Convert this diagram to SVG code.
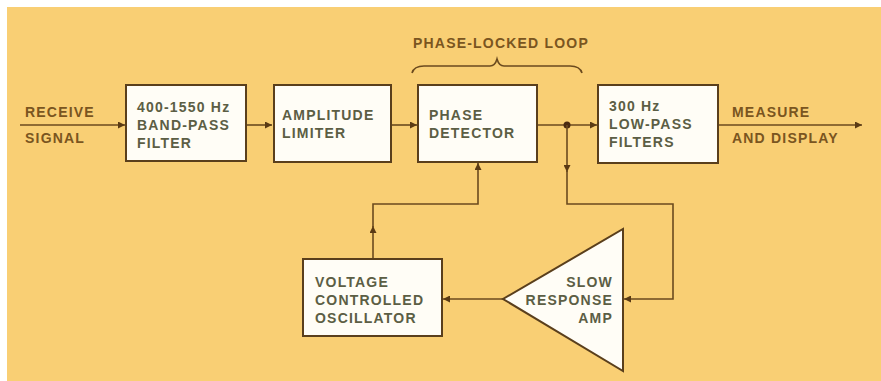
<svg xmlns="http://www.w3.org/2000/svg" width="881" height="381" viewBox="0 0 881 381">
<style>
.box{fill:#fffdf6;stroke:#5a3f1c;stroke-width:2}
.t{font-family:"Liberation Sans",Arial,sans-serif;font-weight:bold;font-size:14px;letter-spacing:1.2px;fill:#5c5e44}
.l{font-family:"Liberation Sans",Arial,sans-serif;font-weight:bold;font-size:14px;letter-spacing:1.2px;fill:#7a5520}
.w{fill:none;stroke:#6b4a1e;stroke-width:1.6}
</style>
<defs>
<marker id="ah" viewBox="0 0 10 10" refX="10" refY="5" markerWidth="9" markerHeight="7" markerUnits="userSpaceOnUse" orient="auto">
<path d="M0,0 L10,5 L0,10 z" fill="#5a3a14"/>
</marker>
</defs>
<rect x="0" y="0" width="881" height="381" fill="#ffffff"/>
<rect x="7" y="7" width="874" height="374" fill="#f9cf74"/>

<g id="connectors">
<line class="w" x1="20" y1="125" x2="125" y2="125" marker-end="url(#ah)"/>
<line class="w" x1="246" y1="125" x2="272" y2="125" marker-end="url(#ah)"/>
<line class="w" x1="391" y1="125" x2="417" y2="125" marker-end="url(#ah)"/>
<line class="w" x1="537" y1="125" x2="597" y2="125" marker-end="url(#ah)"/>
<circle cx="567" cy="125" r="3.5" fill="#4a2a10"/>
<line class="w" x1="718" y1="125" x2="862" y2="125" marker-end="url(#ah)"/>
<line class="w" x1="567" y1="125" x2="567" y2="172" marker-end="url(#ah)"/>
<polyline class="w" points="567,170 567,204 673,204 673,299 624,299" marker-end="url(#ah)"/>
<line class="w" x1="503" y1="299" x2="443" y2="299" marker-end="url(#ah)"/>
<line class="w" x1="373" y1="259" x2="373" y2="226" marker-end="url(#ah)"/>
<polyline class="w" points="373,228 373,204 478,204 478,163" marker-end="url(#ah)"/>
</g>

<g id="brace">
<path class="w" d="M412,73 Q414,66 424,66 L490,66 Q495,66 497,59 Q499,66 504,66 L570,66 Q580,66 582,73"/>
<text class="l" x="413" y="48">PHASE-LOCKED LOOP</text>
</g>

<g id="receive">
<text class="l" x="25" y="117">RECEIVE</text>
<text class="l" x="25" y="143">SIGNAL</text>
</g>

<g id="bandpass">
<rect class="box" x="126" y="85" width="120" height="76"/>
<text class="t" x="137" y="112">400-1550 Hz</text>
<text class="t" x="137" y="130">BAND-PASS</text>
<text class="t" x="137" y="148">FILTER</text>
</g>

<g id="limiter">
<rect class="box" x="274" y="85" width="117" height="77"/>
<text class="t" x="282" y="120">AMPLITUDE</text>
<text class="t" x="282" y="138">LIMITER</text>
</g>

<g id="phasedetector">
<rect class="box" x="418" y="85" width="119" height="77"/>
<text class="t" x="429" y="120">PHASE</text>
<text class="t" x="429" y="138">DETECTOR</text>
</g>

<g id="lowpass">
<rect class="box" x="598" y="85" width="120" height="78"/>
<text class="t" x="609" y="111">300 Hz</text>
<text class="t" x="609" y="129">LOW-PASS</text>
<text class="t" x="609" y="147">FILTERS</text>
</g>

<g id="measure">
<text class="l" x="732" y="117">MEASURE</text>
<text class="l" x="732" y="143">AND DISPLAY</text>
</g>

<g id="vco">
<rect class="box" x="303" y="259" width="139" height="77"/>
<text class="t" x="315" y="287">VOLTAGE</text>
<text class="t" x="315" y="305">CONTROLLED</text>
<text class="t" x="315" y="323">OSCILLATOR</text>
</g>

<g id="amp">
<polygon class="box" points="623,229 623,371 503,299"/>
<text class="t" x="613" y="287" text-anchor="end">SLOW</text>
<text class="t" x="613" y="305" text-anchor="end">RESPONSE</text>
<text class="t" x="613" y="323" text-anchor="end">AMP</text>
</g>
</svg>
